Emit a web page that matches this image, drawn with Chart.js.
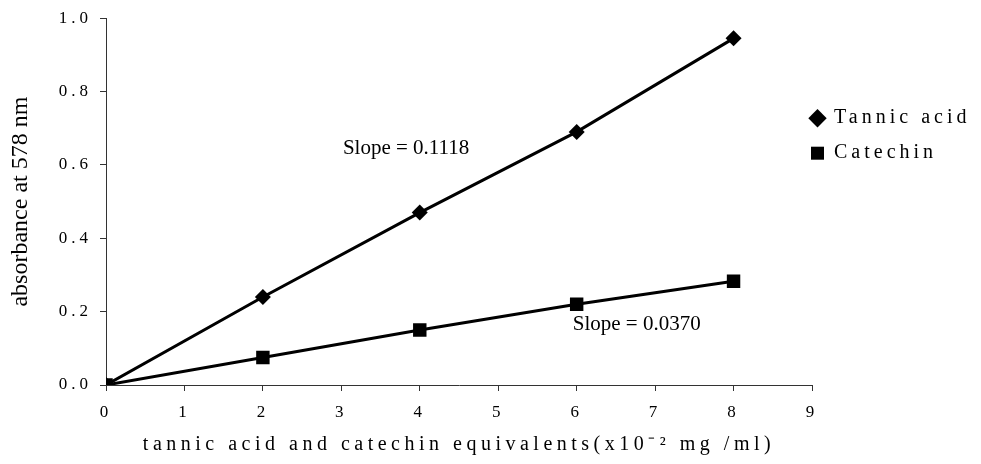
<!DOCTYPE html>
<html>
<head>
<meta charset="utf-8">
<script src="https://cdn.jsdelivr.net/npm/chart.js@4.4.1/dist/chart.umd.min.js"></script>
<style>
  html, body { margin: 0; padding: 0; background: #ffffff; }
  #wrap { width: 981px; height: 464px; }
</style>
</head>
<body>
<div id="wrap"><canvas id="calib" width="981" height="464"></canvas></div>
<script>
// Standard curves: absorbance at 578 nm against concentration (x10^-2 mg/ml)
const concentrations = [0, 2, 4, 6, 8];
const tannicAcid = [0, 0.24, 0.47, 0.69, 0.945];
const catechin = [0, 0.075, 0.15, 0.22, 0.283];
const seriesNames = ['Tannic acid', 'Catechin'];
const slopeTexts = ['Slope = 0.1118', 'Slope = 0.0370'];
const xTickValues = [0, 1, 2, 3, 4, 5, 6, 7, 8, 9];
const yTickValues = [0, 0.2, 0.4, 0.6, 0.8, 1.0];

const SERIF = '"Liberation Serif", "Times New Roman", serif';
const WIDE_SPACING = '4px';
const TITLE_SPACING = { x: '4.5px', y: '0px' };

// Linear scale that draws its title with its own letter spacing
class SpacedTitleLinearScale extends Chart.LinearScale {
  drawTitle() {
    const ctx = this.ctx;
    ctx.save();
    ctx.letterSpacing = TITLE_SPACING[this.id] || '0px';
    super.drawTitle();
    ctx.restore();
  }
}
SpacedTitleLinearScale.id = 'spacedTitleLinear';
SpacedTitleLinearScale.defaults = Chart.LinearScale.defaults;
Chart.register(SpacedTitleLinearScale);

// Spaced-out lettering for tick labels and legend
const letterSpacingPlugin = {
  id: 'letterSpacing',
  beforeUpdate(chart) { chart.ctx.letterSpacing = WIDE_SPACING; },
  beforeDraw(chart) { chart.ctx.letterSpacing = WIDE_SPACING; }
};

// Legend entries start just over the end of the x axis
const legendPlacement = {
  id: 'legendPlacement',
  afterLayout(chart) {
    const legend = chart.legend;
    legend.left -= legend.options.labels.padding + 1;
  }
};

// Slope annotations placed in data coordinates
const slopeNotes = [
  { text: slopeTexts[0], x: 3.02, y: 0.645 },
  { text: slopeTexts[1], x: 5.95, y: 0.165 }
];
const slopeLabelPlugin = {
  id: 'slopeLabels',
  afterDatasetsDraw(chart) {
    const { ctx, scales } = chart;
    ctx.save();
    ctx.letterSpacing = '0px';
    ctx.font = '21px ' + SERIF;
    ctx.fillStyle = '#000';
    ctx.textAlign = 'left';
    ctx.textBaseline = 'middle';
    slopeNotes.forEach(n => {
      ctx.fillText(n.text, scales.x.getPixelForValue(n.x), scales.y.getPixelForValue(n.y));
    });
    ctx.restore();
  }
};

const toPoints = (xs, ys) => xs.map((x, i) => ({ x, y: ys[i] }));

new Chart(document.getElementById('calib'), {
  type: 'line',
  data: {
    datasets: [
      {
        label: seriesNames[0],
        data: toPoints(concentrations, tannicAcid),
        borderColor: '#000',
        backgroundColor: '#000',
        borderWidth: 3,
        pointStyle: 'rectRot',
        pointRadius: 8,
        pointBackgroundColor: '#000',
        pointBorderColor: '#000',
        pointBorderWidth: 0,
        tension: 0
      },
      {
        label: seriesNames[1],
        data: toPoints(concentrations, catechin),
        borderColor: '#000',
        backgroundColor: '#000',
        borderWidth: 3,
        pointStyle: 'rect',
        pointRadius: 9.5,
        pointBackgroundColor: '#000',
        pointBorderColor: '#000',
        pointBorderWidth: 0,
        tension: 0
      }
    ]
  },
  options: {
    responsive: false,
    animation: false,
    devicePixelRatio: 1,
    layout: { padding: { top: 14, right: 0, bottom: 0, left: 0 } },
    plugins: {
      tooltip: { enabled: false },
      legend: {
        position: 'right',
        align: 'start',
        maxWidth: 169,
        title: { display: true, text: '', font: { size: 1 }, padding: { top: 78, bottom: 0 } },
        labels: {
          usePointStyle: true,
          boxWidth: 13,
          boxHeight: 13,
          padding: 15,
          color: '#000',
          font: { family: SERIF, size: 20 }
        }
      }
    },
    scales: {
      x: {
        type: 'spacedTitleLinear',
        min: 0,
        max: 9,
        afterBuildTicks(scale) { scale.ticks = xTickValues.map(v => ({ value: v })); },
        afterFit(scale) { scale.height = 79; },
        grid: { display: true, drawOnChartArea: false, drawTicks: true, tickLength: 6, color: '#333', lineWidth: 1 },
        border: { display: true, color: '#333', width: 1 },
        ticks: {
          color: '#000',
          padding: 11,
          font: { family: SERIF, size: 17 },
          callback: v => String(v)
        },
        title: {
          display: true,
          text: 'tannic acid and catechin equivalents(x10\u207B\u00B2 mg /ml)',
          color: '#000',
          font: { family: SERIF, size: 20 },
          padding: { top: 0, bottom: 7 }
        }
      },
      y: {
        type: 'spacedTitleLinear',
        min: 0,
        max: 1.0,
        afterBuildTicks(scale) { scale.ticks = yTickValues.map(v => ({ value: v })); },
        afterFit(scale) { scale.width = 106; },
        grid: { display: true, drawOnChartArea: false, drawTicks: true, tickLength: 6, color: '#333', lineWidth: 1 },
        border: { display: true, color: '#333', width: 1 },
        ticks: {
          color: '#000',
          padding: 8,
          font: { family: SERIF, size: 17 },
          callback: v => Number(v).toFixed(1)
        },
        title: {
          display: true,
          text: 'absorbance at 578 nm',
          color: '#000',
          font: { family: SERIF, size: 24 },
          padding: { top: 6, bottom: 0 }
        }
      }
    }
  },
  plugins: [letterSpacingPlugin, legendPlacement, slopeLabelPlugin]
});
</script>
</body>
</html>
